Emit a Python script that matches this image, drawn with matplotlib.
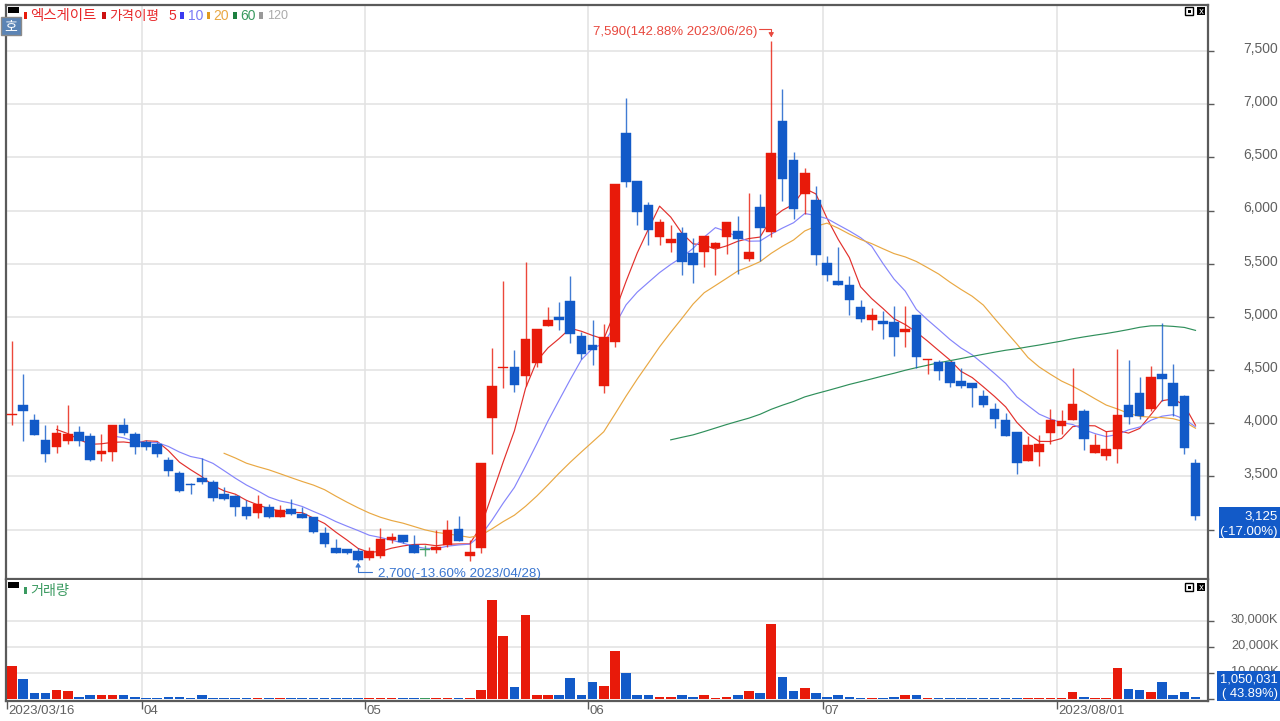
import matplotlib
matplotlib.use("Agg")
import matplotlib.pyplot as plt
from matplotlib.patches import Rectangle
from matplotlib.transforms import ScaledTranslation, blended_transform_factory
import numpy as np
import pandas as pd

opens = [4075,4175,4030,3838,3780,3830,3920,3880,3710,3732,3980,3900,3822,3800,3654,3532,3430,3480,3450,3335,3317,3214,3151,3214,3120,3195,3145,3114,
         2970,2830,2820,2799,2730,2752,2902,2952,2858,2805,2810,2855,3008,2755,2824,4047,4515,4530,4447,4570,4918,4996,5147,4817,4739,4352,4764,
         6730,6277,6051,5750,5693,5784,5599,5608,5646,5750,5806,5542,6029,5794,6846,6472,6158,6099,5504,5341,5297,5090,4975,4959,4947,4853,5022,
         4590,4571,4571,4396,4374,4252,4130,4031,3919,3640,3731,3906,3978,4028,4119,3721,3690,3753,4172,4288,4135,4460,4379,4257,3621]
closes = [4085,4110,3885,3710,3910,3895,3835,3655,3735,3980,3912,3772,3772,3710,3548,3364,3417,3445,3300,3290,3210,3126,3236,3117,3183,3148,3108,2980,
          2864,2777,2777,2711,2796,2908,2930,2880,2783,2805,2838,3000,2895,2786,3622,4350,4530,4355,4790,4890,4974,4968,4840,4650,4692,4807,6249,
          6271,5985,5813,5888,5734,5514,5483,5762,5690,5888,5731,5612,5831,6544,6293,6017,6349,5579,5394,5304,5160,4978,5022,4934,4815,4890,4621,
          4602,4487,4374,4352,4330,4167,4036,3881,3624,3797,3806,4031,4022,4182,3847,3793,3756,4081,4056,4066,4438,4416,4163,3765,3125]
highs = [4770,4460,4085,3980,3980,4170,3970,3910,3900,3980,4053,3920,3845,3820,3682,3554,3440,3676,3463,3400,3323,3282,3320,3239,3226,3289,3214,3114,
         3020,2911,2820,2830,2840,3017,2964,2952,2945,2855,3000,3092,3126,2905,3622,4707,5335,4688,5520,4890,5090,5137,5388,4855,4974,4933,6249,
         7062,6277,6083,5916,5860,5841,5743,5762,5706,5888,5950,6167,6158,7590,7140,6554,6403,6227,5576,5654,5388,5160,5081,5056,5103,5103,5022,
         4602,4593,4571,4518,4374,4315,4192,4094,3919,3881,3887,4131,4125,4520,4131,3900,3925,4698,4595,4432,4535,4945,4557,4266,3665]
lows = [3980,3830,3885,3638,3720,3800,3790,3648,3640,3640,3890,3710,3745,3680,3504,3354,3332,3426,3270,3273,3126,3095,3108,3108,3117,3136,3108,2970,
        2833,2777,2770,2700,2711,2730,2870,2875,2777,2752,2780,2840,2890,2700,2783,3710,4330,4290,4352,4530,4918,4874,4750,4604,4547,4280,4713,
        6220,5860,5677,5677,5608,5398,5316,5473,5389,5593,5404,5524,5530,5750,6086,5922,5970,5483,5341,5304,5016,4947,4878,4790,4628,4721,4518,
        4465,4405,4343,4333,4149,4149,3951,3883,3524,3640,3596,3803,3894,4028,3750,3721,3650,3624,3994,4038,4110,4213,4072,3709,3092]
volumes = [12800,7800,2400,2400,3600,3250,1150,1550,1550,1900,1550,1150,750,750,1150,1150,750,1550,750,750,750,750,750,750,750,750,750,750,
           750,750,450,450,550,750,550,550,550,550,750,750,750,750,3650,38200,24500,4800,32500,1550,1550,1550,8200,1900,6600,5300,18600,
           10100,1550,1550,1150,1150,1550,1150,1550,750,1150,1550,3250,2400,29100,8600,3250,4400,2400,1150,1550,1150,750,750,750,1150,1550,1550,
           750,750,750,750,750,450,750,750,750,750,450,750,750,2900,1150,750,750,12250,4000,3650,2750,6800,1550,2900,1050]
month_starts = [12, 32, 52, 73, 94]
month_labels = ["04", "05", "06", "07", "2023/08/01"]
price_ticks = [3000,3500,4000,4500,5000,5500,6000,6500,7000,7500]
volume_ticks = [10000,20000,30000]
volume_tick_labels = ["10,000K","20,000K","30,000K"]
ma_windows = {5:"#e2302c",10:"#8585fb",20:"#e9a843",60:"#2f8f5b"}

RED="#e81a0a"; BLUE="#125ac8"; GREEN="#3a9a60"; GRID="#e2e2e2"; FRAME="#5a5a5a"; TXT="#606060"
NARROW=["Liberation Sans","DejaVu Sans"]
KR=["Noto Sans CJK KR","DejaVu Sans"]

fig=plt.figure(figsize=(12.8,7.21),dpi=100,facecolor="white")
W,H=1280.,721.
def axpx(l,t,r,b):
    return fig.add_axes([l/W,1-b/H,(r-l)/W,(b-t)/H])
ax=axpx(6,5,1208,579)
vx=axpx(6,580,1208,700.5)
n=len(closes); idx=np.arange(n)
xlim=((6-12)/11.165,(1208-12)/11.165)
for a in (ax,vx):
    a.set_xlim(*xlim)
    a.set_facecolor("white")
    for s in a.spines.values(): s.set_color(FRAME); s.set_linewidth(1.6)
    a.spines["top"].set_visible(a is ax)
    a.yaxis.tick_right()
    a.tick_params(axis="y",length=4,width=1,color=FRAME,labelright=False)
    a.set_axisbelow(True)
    for m in month_starts:
        a.axvline(m-0.4,color=GRID,lw=1.1,zorder=0)

def right_labels(a,vals,labels,fs):
    tr=blended_transform_factory(fig.transFigure,a.transData)+ScaledTranslation(0,1.5/72,fig.dpi_scale_trans)
    for v,s in zip(vals,labels):
        a.text(1278.5/W,v,s,transform=tr,ha="right",va="center",color=TXT,fontsize=fs,family=NARROW,clip_on=False)

ax.set_ylim(2534.5,7933)
ax.set_yticks(price_ticks)
ax.set_xticks([])
for v in price_ticks: ax.axhline(v,color=GRID,lw=1.1,zorder=0)
# the 3,000 label sits wholly behind the last-price box in the reference
right_labels(ax,price_ticks[1:],[f"{v:,}" for v in price_ticks[1:]],10)

cl=pd.Series(closes,dtype=float)
for w,c in ma_windows.items():
    ax.plot(idx,cl.rolling(w).mean(),color=c,lw=0.85,zorder=2)

o=np.array(opens,float);c=np.array(closes,float);h=np.array(highs,float);l=np.array(lows,float)
cols=[RED if a>b else (BLUE if a<b else GREEN) for a,b in zip(c,o)]
ax.vlines(idx,l,h,colors=cols,lw=1.0,zorder=3,alpha=0.8)
ax.bar(idx,np.maximum(np.abs(c-o),9),bottom=np.minimum(o,c),width=0.86,color=cols,edgecolor=cols,linewidth=0.3,zorder=4)

vx.set_ylim(-385,45960)
vx.set_yticks(volume_ticks+[0])
for v in volume_ticks: vx.axhline(v,color=GRID,lw=1.1,zorder=0)
right_labels(vx,volume_ticks,volume_tick_labels,9.2)
vx.bar(idx,volumes,width=0.86,color=cols,zorder=3)
vx.set_xticks([m-0.4 for m in month_starts]+[-0.45])
vx.set_xticklabels([""]*6)
vx.tick_params(axis="x",length=6,width=1,color=FRAME)

hi=int(np.argmax(h))
ax.annotate("",xy=(hi,h[hi]+40),xytext=(-9,6),textcoords="offset points",
            arrowprops=dict(arrowstyle="-|>,head_width=0.15,head_length=0.25",color="#e8483e",lw=0.8,shrinkA=0,shrinkB=0,
                            connectionstyle="angle,angleA=0,angleB=90,rad=0"))
ax.annotate("",xy=(31,l[31]-10),xytext=(10,-7),textcoords="offset points",
            arrowprops=dict(arrowstyle="-|>,head_width=0.15,head_length=0.25",color="#3a76d0",lw=0.8,shrinkA=0,shrinkB=0,
                            connectionstyle="angle,angleA=0,angleB=90,rad=0"))

ov=fig.add_axes([0,0,1,1],facecolor="none"); ov.set_xlim(0,W); ov.set_ylim(H,0); ov.axis("off")
def T(x,y,s,color=TXT,fs=9.5,fam=NARROW,ha="left",z=10):
    ov.text(x,y+1.5,s,color=color,fontsize=fs,family=fam,ha=ha,va="center",zorder=z)
def R(x0,y0,x1,y1,fc,ec="none",lw=0,z=5):
    ov.add_patch(Rectangle((x0,y0),x1-x0,y1-y0,fc=fc,ec=ec,lw=lw,zorder=z))

T(757,31,"7,590(142.88% 2023/06/26)","#e8483e",ha="right")
T(378,572,"2,700(-13.60% 2023/04/28)","#3a76d0",fs=9.6)

T(8,710,"2023/03/16",fs=9.5)
for m,s in zip(month_starts,month_labels):
    px=12+(m-0.4)*11.165
    T(px+1.5,710,s,fs=9.5)

R(1219,507,1280,538,BLUE,z=6)
T(1278,515,"3,125","white",ha="right",fs=9.5)
T(1278,530,"(-17.00%)","white",ha="right",fs=9.5)
R(1217,671,1280,701,BLUE,z=6)
T(1278,678,"1,050,031","white",ha="right",fs=9.3)
T(1278,692,"( 43.89%)","white",ha="right",fs=9.3)

R(8,7,19,13,"black")
R(8,582,19,588,"black")
R(1,17,21,35,"#5b84b5",ec="#8a8a8a",lw=1,z=7)
T(11,25,"호","white",10,KR,ha="center")
R(23.5,12,27,19,RED); T(30,14.5,"엑스게이트","#e8282a",10.4,KR)
R(102,12,105.5,19,"#cc1111"); T(109,14.5,"가격이평","#e8282a",9.8,KR)
T(168,14.5,"5","#e8282a",10)
R(180,11.5,183.5,19,"#3a3af0"); T(188,14.5,"10","#7a7af5",10)
R(206.5,11.5,210,19,"#e09a20"); T(213,14.5,"20","#e9a843",10)
R(233,11.5,236.5,19,"#1d8040"); T(240,14.5,"60","#3a9a60",10)
R(259,11.5,262.5,19,"#999999"); T(267,14.5,"120","#aaaaaa",9)
R(23.5,587,26.5,594,GREEN); T(30,589.5,"거래량",GREEN,10.2,KR)

for y in (7,583):
    R(1185,y,1193,y+8,"white",ec="black",lw=1); R(1187.5,y+2.5,1190.5,y+5.5,"black",z=6)
    R(1197,y,1205,y+8,"black",z=6); T(1201,y+2.5,"x","white",6,"DejaVu Sans",ha="center")

fig.savefig("out.png",dpi=100,facecolor="white")
